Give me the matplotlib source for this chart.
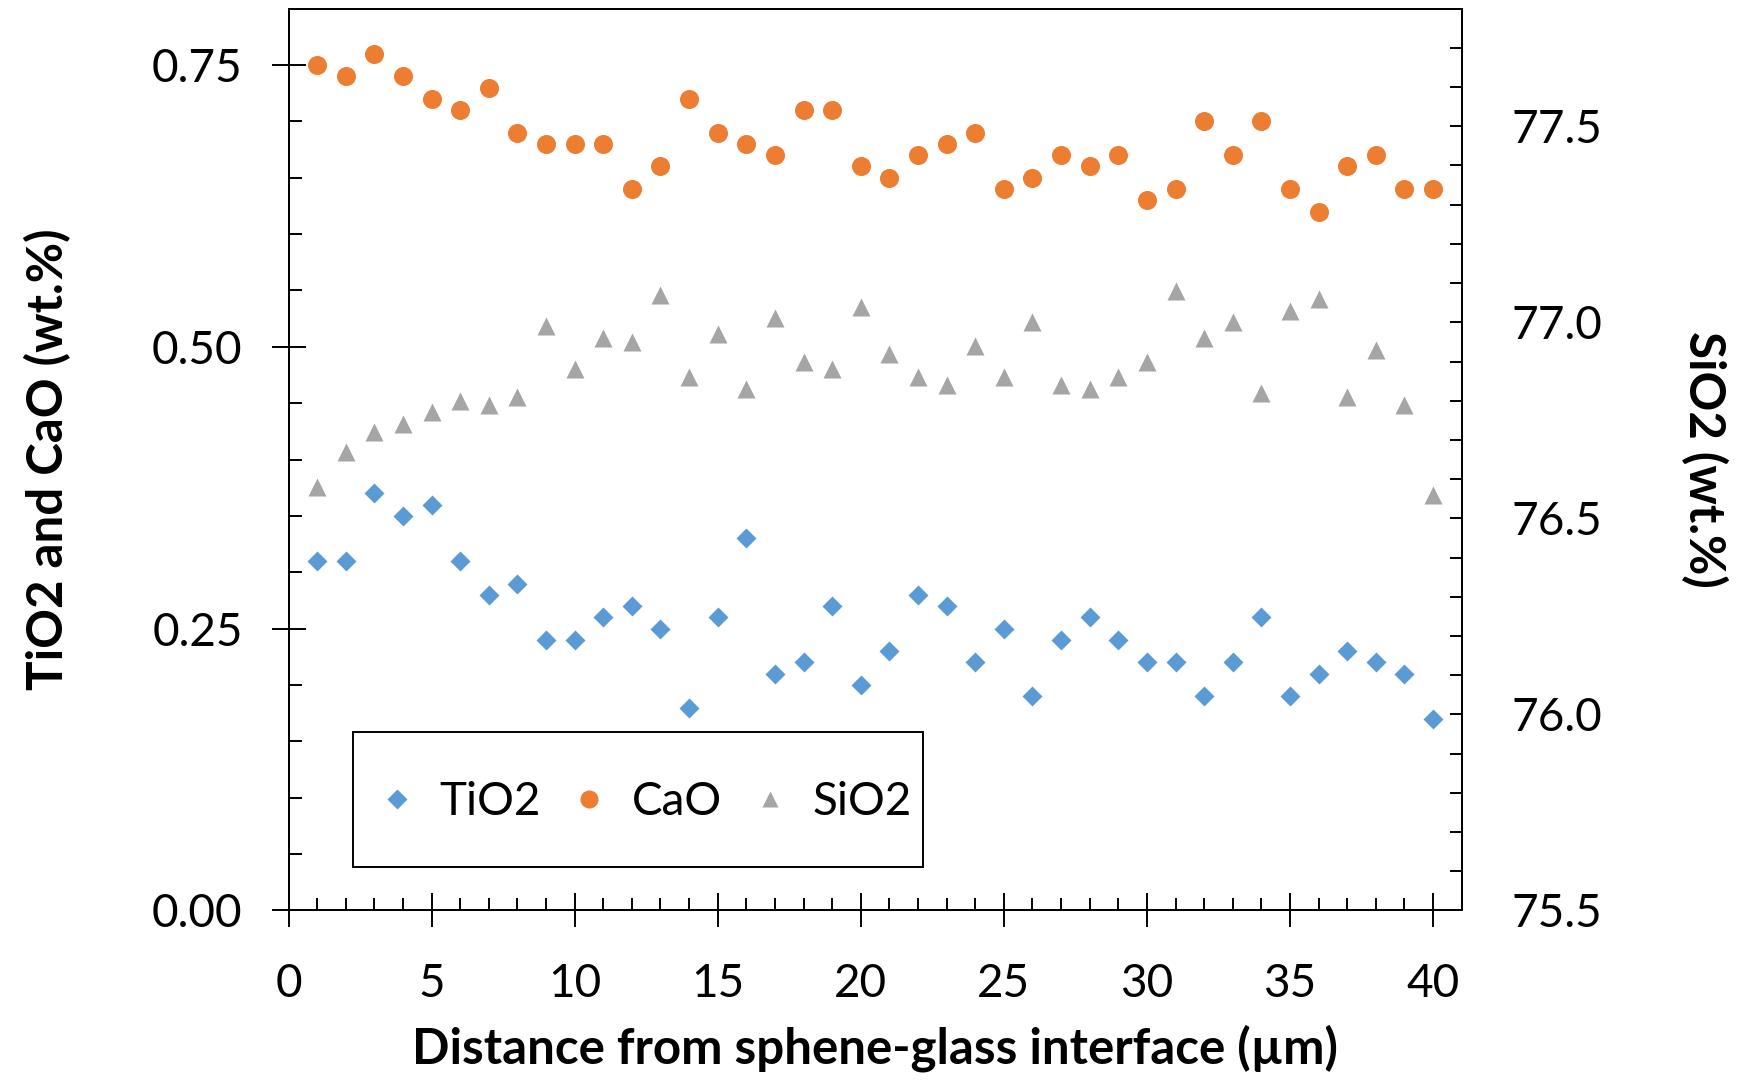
#!/usr/bin/env python3
# plot.py
#
# TiO2 / CaO (left axis) and SiO2 (right axis) vs. distance from the
# sphene-glass interface.

import numpy as np
import matplotlib
matplotlib.use("Agg")
import matplotlib.pyplot as plt
from matplotlib.patches import Rectangle
from matplotlib.ticker import MultipleLocator, FormatStrFormatter

# --- data (wt.%) ---
distance = list(range(1, 41))

tio2 = [0.31, 0.31, 0.37, 0.35, 0.36, 0.31, 0.28, 0.29, 0.24, 0.24,
        0.26, 0.27, 0.25, 0.18, 0.26, 0.33, 0.21, 0.22, 0.27, 0.20,
        0.23, 0.28, 0.27, 0.22, 0.25, 0.19, 0.24, 0.26, 0.24, 0.22,
        0.22, 0.19, 0.22, 0.26, 0.19, 0.21, 0.23, 0.22, 0.21, 0.17]

cao = [0.75, 0.74, 0.76, 0.74, 0.72, 0.71, 0.73, 0.69, 0.68, 0.68,
       0.68, 0.64, 0.66, 0.72, 0.69, 0.68, 0.67, 0.71, 0.71, 0.66,
       0.65, 0.67, 0.68, 0.69, 0.64, 0.65, 0.67, 0.66, 0.67, 0.63,
       0.64, 0.70, 0.67, 0.70, 0.64, 0.62, 0.66, 0.67, 0.64, 0.64]

sio2 = [76.58, 76.67, 76.72, 76.74, 76.77, 76.80, 76.79, 76.81, 76.99, 76.88,
        76.96, 76.95, 77.07, 76.86, 76.97, 76.83, 77.01, 76.90, 76.88, 77.04,
        76.92, 76.86, 76.84, 76.94, 76.86, 77.00, 76.84, 76.83, 76.86, 76.90,
        77.08, 76.96, 77.00, 76.82, 77.03, 77.06, 76.81, 76.93, 76.79, 76.56]

BLUE = "#5B9BD5"
ORANGE = "#ED7D31"
GREY = "#A5A5A5"

plt.rcParams["font.family"] = ["Lato", "DejaVu Sans"]

fig = plt.figure(figsize=(17.38, 10.8), dpi=100)
ax = fig.add_axes([0.166, 0.157, 0.675, 0.835])
ax2 = ax.twinx()

h1, = ax.plot(distance, tio2, ls="none", marker="D", ms=10.2, color=BLUE,
              mec="none", label="TiO2")
h2, = ax.plot(distance, cao, ls="none", marker="o", ms=13.7, color=ORANGE,
              mec="none", label="CaO")
h3, = ax2.plot(distance, sio2, ls="none", marker="^", ms=12.5, color=GREY,
               mec="none", label="SiO2")

# axes limits / ticks
ax.set_xlim(0, 41)
ax.set_ylim(0, 0.8)
ax2.set_ylim(75.5, 77.8)

ax.xaxis.set_major_locator(MultipleLocator(5))
ax.xaxis.set_minor_locator(MultipleLocator(1))
ax.yaxis.set_major_locator(MultipleLocator(0.25))
ax.yaxis.set_minor_locator(MultipleLocator(0.05))
ax.yaxis.set_major_formatter(FormatStrFormatter("%.2f"))
ax2.yaxis.set_major_locator(MultipleLocator(0.5))
ax2.yaxis.set_minor_locator(MultipleLocator(0.1))
ax2.yaxis.set_major_formatter(FormatStrFormatter("%.1f"))

lw = 1.4
for a in (ax, ax2):
    for s in a.spines.values():
        s.set_linewidth(lw)

ax.tick_params(axis="x", which="major", direction="inout", length=24, width=lw,
               pad=26, labelsize=33, top=False)
ax.tick_params(axis="x", which="minor", direction="in", length=9, width=lw, top=False)
ax.tick_params(axis="y", which="major", direction="inout", length=24, width=lw,
               pad=21, labelsize=33, right=False)
ax.tick_params(axis="y", which="minor", direction="in", length=9, width=lw, right=False)
ax2.tick_params(axis="y", which="both", direction="in", length=9, width=lw,
                pad=36, labelsize=33)

ax.set_xlabel("Distance from sphene-glass interface (\u00b5m)", fontsize=35.5,
              fontweight="bold", labelpad=14)
ax.set_ylabel("TiO2 and CaO (wt.%)", fontsize=35.5, fontweight="bold", labelpad=58)
ax2.set_ylabel("SiO2 (wt.%)", fontsize=35.5, fontweight="bold", rotation=270,
               labelpad=90)

# legend: plain box drawn separately so the frame size matches the original
box = Rectangle((0.0546, 0.0483), 0.4864, 0.1497, transform=ax2.transAxes,
                facecolor="white", edgecolor="black", linewidth=1.4, zorder=4)
ax2.add_patch(box)
leg = ax2.legend(handles=[h1, h2, h3], loc="center", ncol=3,
                 bbox_to_anchor=(0.302, 0.12), borderaxespad=0, borderpad=0,
                 fontsize=33, frameon=False, handlelength=1.0,
                 handletextpad=0.43, columnspacing=0.55, markerscale=0.95)
leg.set_zorder(5)

fig.savefig("out.png", dpi=100)
